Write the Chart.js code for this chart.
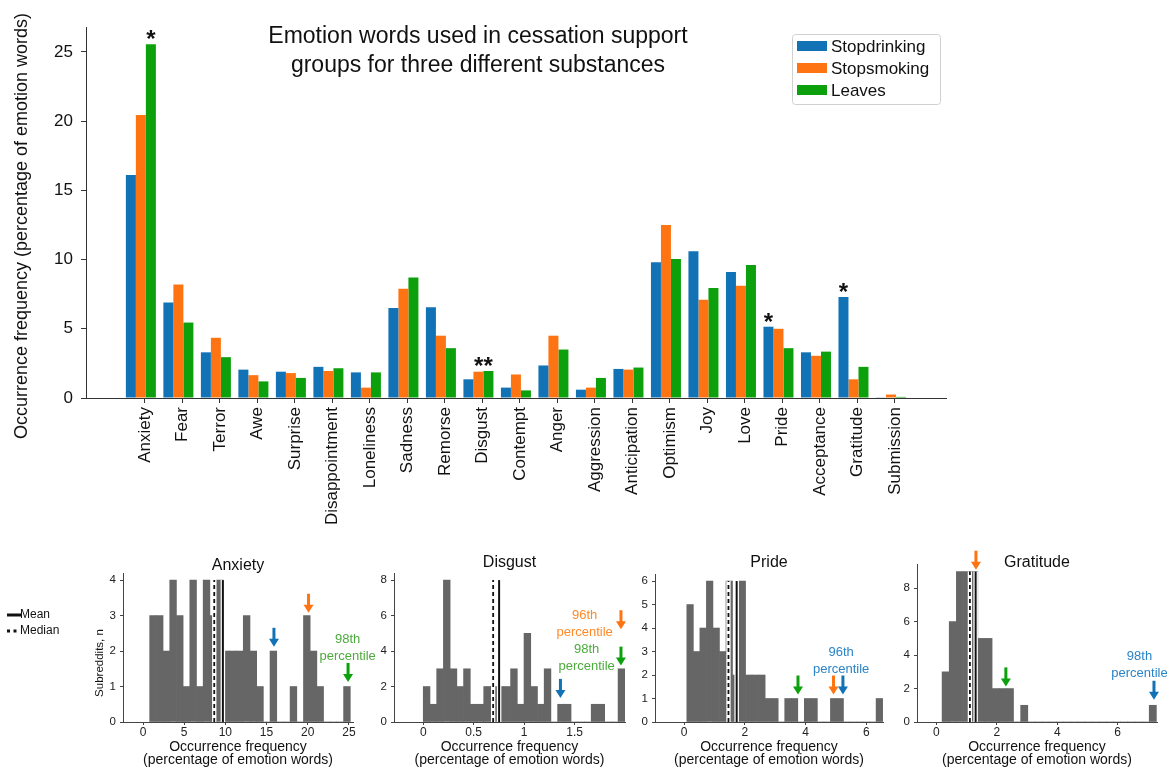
<!DOCTYPE html>
<html>
<head>
<meta charset="utf-8">
<script src="https://cdn.jsdelivr.net/npm/chart.js@4.4.1/dist/chart.umd.min.js"></script>
<style>
  html, body { margin: 0; padding: 0; background: #fff; }
  #wrap { position: relative; width: 1169px; height: 771px; overflow: hidden; }
  canvas { position: absolute; }
</style>
</head>
<body>
<div id="wrap">
  <canvas id="main" width="1169" height="540" style="left:0;top:0"></canvas>
  <canvas id="h-anxiety" width="385" height="231" style="left:0;top:540px"></canvas>
  <canvas id="h-disgust" width="280" height="231" style="left:360px;top:540px"></canvas>
  <canvas id="h-pride" width="270" height="231" style="left:625px;top:540px"></canvas>
  <canvas id="h-gratitude" width="284" height="231" style="left:885px;top:540px"></canvas>
</div>
<script>
const FONT = "'Liberation Sans', Arial, Helvetica, sans-serif";
Chart.defaults.font.family = FONT;
Chart.defaults.color = '#111';

// main chart data
const emotions = ["Anxiety", "Fear", "Terror", "Awe", "Surprise", "Disappointment", "Loneliness",
  "Sadness", "Remorse", "Disgust", "Contempt", "Anger", "Aggression", "Anticipation", "Optimism",
  "Joy", "Love", "Pride", "Acceptance", "Gratitude", "Submission"];
const seriesNames = ["Stopdrinking", "Stopsmoking", "Leaves"];
const stopdrinking = [16.1, 6.9, 3.3, 2.05, 1.9, 2.25, 1.85, 6.5, 6.55, 1.35, 0.75, 2.35, 0.6, 2.1, 9.8, 10.6, 9.1, 5.15, 3.3, 7.3, 0.05];
const stopsmoking = [20.45, 8.2, 4.35, 1.65, 1.8, 1.95, 0.75, 7.9, 4.5, 1.9, 1.7, 4.5, 0.75, 2.05, 12.5, 7.1, 8.1, 5.0, 3.05, 1.35, 0.25];
const leaves = [25.55, 5.45, 2.95, 1.2, 1.45, 2.15, 1.85, 8.7, 3.6, 1.95, 0.55, 3.5, 1.45, 2.2, 10.05, 7.95, 9.6, 3.6, 3.35, 2.25, 0.08];
const mainYTicks = [0, 5, 10, 15, 20, 25];
const seriesColors = ["#1272b6", "#ff7412", "#0ca10c"];
const noteColors = ["#2a84c8", "#ff8a2a", "#4daa3c"];

// significance stars: emotion, text, which bars (series index) they sit over
const starEmotions = ["Anxiety", "Disgust", "Pride", "Gratitude"];
const starTexts = ["*", "**", "*", "*"];
const starBars = [[2], [1, 2], [0], [0]];

const mainTitle = ["Emotion words used in cessation support", "groups for three different substances"];
const mainYTitle = "Occurrence frequency (percentage of emotion words)";

// histograms: 30 bins each, counts of subreddits
const anxietyCounts = [3, 3, 2, 4, 3, 1, 4, 1, 4, 3, 4, 2, 2, 2, 3, 2, 1, 0, 2, 0, 0, 1, 0, 3, 2, 1, 0, 0, 0, 1];
const disgustCounts = [2, 1, 3, 8, 3, 2, 3, 1, 1, 2, 2, 2, 2, 3, 1, 5, 2, 1, 3, 0, 1, 1, 0, 0, 0, 1, 1, 0, 0, 3];
const prideCounts = [5, 3, 4, 6, 4, 3, 6, 2, 6, 2, 2, 2, 1, 1, 0, 1, 1, 0, 1, 1, 0, 0, 1, 1, 0, 0, 0, 0, 0, 1];
const gratitudeCounts = [3, 6, 9, 9, 9, 5, 5, 2, 2, 2, 0, 1, 0, 0, 0, 0, 0, 0, 0, 0, 0, 0, 0, 0, 0, 0, 0, 0, 0, 1];
const binStarts = [0.81, 0.0, 0.088, 0.19];
const binWidths = [0.812, 0.0666, 0.215, 0.2363];

const histNames = ["Anxiety", "Disgust", "Pride", "Gratitude"];
const histMeans = [9.7, 0.752, 1.73, 1.30];
const histMedians = [8.65, 0.693, 1.46, 1.11];
const histXTicks = [[0, 5, 10, 15, 20, 25], [0, 0.5, 1, 1.5], [0, 2, 4, 6], [0, 2, 4, 6]];
const histYTicks = [[0, 1, 2, 3, 4], [0, 2, 4, 6, 8], [0, 1, 2, 3, 4, 5, 6], [0, 2, 4, 6, 8]];

// percentile arrows: [x value, tip height in counts, series index]
const anxietyArrows = [[15.9, 2.12, 0], [20.1, 3.08, 1], [24.9, 1.13, 2]];
const disgustArrows = [[1.36, 1.36, 0], [1.96, 5.23, 1], [1.96, 3.18, 2]];
const prideArrows = [[3.75, 1.17, 2], [4.92, 1.17, 1], [5.23, 1.17, 0]];
const gratitudeArrows = [[1.31, 9.11, 1], [2.3, 2.13, 2], [7.2, 1.33, 0]];

// percentile notes: [x value, first line height in counts, series index, text]
const anxietyNotes = [[24.85, 2.34, 2, "98th"]];
const disgustNotes = [[1.60, 6.02, 1, "96th"], [1.62, 4.07, 2, "98th"]];
const prideNotes = [[5.17, 2.96, 0, "96th"]];
const gratitudeNotes = [[6.72, 3.9, 0, "98th"]];

// main chart
const barOffset = 0.107;
const seriesValues = [stopdrinking, stopsmoking, leaves];

const mainExtras = {
  id: 'mainExtras',
  afterDatasetsDraw(chart) {
    const ctx = chart.ctx;
    ctx.save();
    ctx.fillStyle = '#111';
    ctx.textAlign = 'center';

    // stars over significant bars
    ctx.font = "bold 24px " + FONT;
    ctx.textBaseline = 'alphabetic';
    starEmotions.forEach((name, k) => {
      const i = emotions.indexOf(name);
      const bars = starBars[k].map(d => chart.getDatasetMeta(d).data[i]);
      const x = bars.reduce((a, b) => a + b.x, 0) / bars.length;
      const y = Math.min(...bars.map(b => b.y));
      ctx.fillText(starTexts[k], x, y + 3);
    });

    // title inside the plot
    ctx.font = "23px " + FONT;
    ctx.textBaseline = 'middle';
    mainTitle.forEach((line, j) => ctx.fillText(line, 478, 37 + j * 29));

    // y title
    ctx.save();
    ctx.translate(22, 226);
    ctx.rotate(-Math.PI / 2);
    ctx.font = "18px " + FONT;
    ctx.fillText(mainYTitle, 0, 0);
    ctx.restore();

    // legend box
    ctx.strokeStyle = '#d0d0d0';
    ctx.lineWidth = 1;
    ctx.beginPath();
    ctx.roundRect(792.5, 34.5, 148, 70, 3);
    ctx.stroke();
    ctx.font = "17px " + FONT;
    ctx.textAlign = 'left';
    seriesNames.forEach((name, s) => {
      const cy = 46 + s * 22;
      ctx.fillStyle = seriesColors[s];
      ctx.fillRect(797, cy - 5, 30, 10);
      ctx.fillStyle = '#111';
      ctx.fillText(name, 831, cy + 1);
    });
    ctx.restore();
  }
};

new Chart(document.getElementById('main'), {
  type: 'bar',
  data: {
    datasets: seriesNames.map((name, s) => ({
      label: name,
      data: seriesValues[s].map((v, i) => ({ x: i - barOffset, y: v })),
      backgroundColor: seriesColors[s],
      categoryPercentage: 0.8,
      barPercentage: 1
    }))
  },
  options: {
    responsive: false,
    animation: false,
    layout: { padding: { top: 27, right: 223, bottom: 0, left: 0 } },
    plugins: { legend: { display: false }, tooltip: { enabled: false } },
    scales: {
      x: {
        type: 'linear', min: -1.57, max: 21.36, offset: false,
        afterBuildTicks: s => { s.ticks = emotions.map((e, i) => ({ value: i })); },
        afterFit: s => { s.height = 142; },
        grid: { display: true, offset: false, drawOnChartArea: false, tickLength: 5, color: '#333' },
        border: { display: true, color: '#333' },
        ticks: { autoSkip: false, minRotation: 90, maxRotation: 90, padding: 4, font: { size: 17 }, color: '#111',
          callback: v => emotions[v] }
      },
      y: {
        min: 0, max: 26.8,
        afterBuildTicks: s => { s.ticks = mainYTicks.map(v => ({ value: v })); },
        afterFit: s => { s.width = 86; },
        grid: { display: true, drawOnChartArea: false, tickLength: 5, color: '#333' },
        border: { display: true, color: '#333' },
        ticks: { padding: 8, font: { size: 17 }, color: '#111' }
      }
    }
  },
  plugins: [mainExtras]
});

// histograms
function vline(ctx, x, y0, y1, dash, width) {
  ctx.beginPath();
  ctx.moveTo(x, y0); ctx.lineTo(x, y1);
  ctx.setLineDash([]);
  ctx.strokeStyle = '#fff';
  ctx.lineWidth = width + 2.5;
  ctx.stroke();
  ctx.beginPath();
  ctx.moveTo(x, y0); ctx.lineTo(x, y1);
  ctx.setLineDash(dash);
  ctx.strokeStyle = '#111';
  ctx.lineWidth = width;
  ctx.stroke();
  ctx.setLineDash([]);
}

function drawArrow(ctx, x, tipY, color) {
  const len = 19, head = 8, half = 5;
  ctx.strokeStyle = color;
  ctx.fillStyle = color;
  ctx.lineWidth = 3;
  ctx.beginPath();
  ctx.moveTo(x, tipY - len);
  ctx.lineTo(x, tipY - head + 1);
  ctx.stroke();
  ctx.beginPath();
  ctx.moveTo(x - half, tipY - head);
  ctx.lineTo(x + half, tipY - head);
  ctx.lineTo(x, tipY);
  ctx.closePath();
  ctx.fill();
}

const histExtras = {
  id: 'histExtras',
  afterDatasetsDraw(chart, args, o) {
    const ctx = chart.ctx;
    const xs = chart.scales.x, ys = chart.scales.y;
    const area = chart.chartArea;
    const top = ys.getPixelForValue(o.lineTop), base = ys.getPixelForValue(0);
    ctx.save();
    vline(ctx, xs.getPixelForValue(o.median), base, top, [4, 3], 1.8);
    vline(ctx, xs.getPixelForValue(o.mean), base, top, [], 2);

    o.arrows.forEach(a => drawArrow(ctx, xs.getPixelForValue(a[0]), ys.getPixelForValue(a[1]), seriesColors[a[2]]));

    ctx.font = "13px " + FONT;
    ctx.textAlign = 'center';
    ctx.textBaseline = 'middle';
    o.notes.forEach(n => {
      const x = xs.getPixelForValue(n[0]), y = ys.getPixelForValue(n[1]);
      ctx.fillStyle = noteColors[n[2]];
      ctx.fillText(n[3], x, y);
      ctx.fillText("percentile", x, y + 17);
    });

    ctx.fillStyle = '#111';
    ctx.font = "16px " + FONT;
    ctx.fillText(o.title, (area.left + area.right) / 2, o.titleY);

    if (o.yTitle) {
      ctx.save();
      ctx.translate(100, 123);
      ctx.rotate(-Math.PI / 2);
      ctx.font = "11.5px " + FONT;
      ctx.fillText(o.yTitle, 0, 0);
      ctx.restore();
    }

    if (o.legend) {
      ctx.font = "12px " + FONT;
      ctx.textAlign = 'left';
      ctx.fillText("Mean", 20, 75);
      ctx.fillText("Median", 20, 91);
      ctx.strokeStyle = '#111';
      ctx.lineWidth = 3;
      ctx.beginPath(); ctx.moveTo(7, 75); ctx.lineTo(21, 75); ctx.stroke();
      ctx.setLineDash([3, 3.5]);
      ctx.beginPath(); ctx.moveTo(7, 91); ctx.lineTo(19, 91); ctx.stroke();
      ctx.setLineDash([]);
    }
    ctx.restore();
  }
};

function makeHistogram(id, k, counts, arrows, notes, xMin, xMax, yMax, padding, yWidth, extra) {
  const data = counts.map((c, i) => ({ x: binStarts[k] + binWidths[k] * (i + 0.5), y: c }));
  new Chart(document.getElementById(id), {
    type: 'bar',
    data: { datasets: [{ data, backgroundColor: '#666666', categoryPercentage: 1, barPercentage: 1, borderWidth: 0 }] },
    options: {
      responsive: false,
      animation: false,
      layout: { padding },
      plugins: {
        legend: { display: false }, tooltip: { enabled: false },
        histExtras: Object.assign({ title: histNames[k], mean: histMeans[k], median: histMedians[k],
          lineTop: Math.max(...counts), arrows, notes }, extra)
      },
      scales: {
        x: {
          type: 'linear', min: xMin, max: xMax, offset: false,
          afterBuildTicks: s => { s.ticks = histXTicks[k].map(v => ({ value: v })); },
          afterFit: s => { s.height = 49; },
          grid: { display: true, offset: false, drawOnChartArea: false, tickLength: 3, color: '#444' },
          border: { display: true, color: '#444' },
          ticks: { padding: 0, font: { size: 12 }, color: '#222', callback: v => String(v) },
          title: { display: true, text: ["Occurrence frequency", "(percentage of emotion words)"],
            font: { size: 14, lineHeight: 0.95 }, color: '#111', padding: { top: 0, bottom: 4 } }
        },
        y: {
          min: 0, max: yMax,
          afterBuildTicks: s => { s.ticks = histYTicks[k].map(v => ({ value: v })); },
          afterFit: s => { s.width = yWidth; },
          grid: { display: true, drawOnChartArea: false, tickLength: 3, color: '#444' },
          border: { display: true, color: '#444' },
          ticks: { padding: 4, font: { size: 11.5 }, color: '#222' }
        }
      }
    },
    plugins: [histExtras]
  });
}

makeHistogram('h-anxiety', 0, anxietyCounts, anxietyArrows, anxietyNotes, -2.43, 25.5, 4.2,
  { left: 92, top: 33, right: 32, bottom: 0 }, 31, { titleY: 26, yTitle: "Subreddits, n", legend: true });
makeHistogram('h-disgust', 1, disgustCounts, disgustArrows, disgustNotes, -0.29, 2.0, 8.4,
  { left: 0, top: 33, right: 15, bottom: 0 }, 34, { titleY: 23 });
makeHistogram('h-pride', 2, prideCounts, prideArrows, prideNotes, -0.96, 6.55, 6.3,
  { left: 0, top: 34, right: 12, bottom: 0 }, 30, { titleY: 23 });
makeHistogram('h-gratitude', 3, gratitudeCounts, gratitudeArrows, gratitudeNotes, -0.64, 7.3, 9.45,
  { left: 0, top: 24, right: 12, bottom: 0 }, 32, { titleY: 23 });
</script>
</body>
</html>
